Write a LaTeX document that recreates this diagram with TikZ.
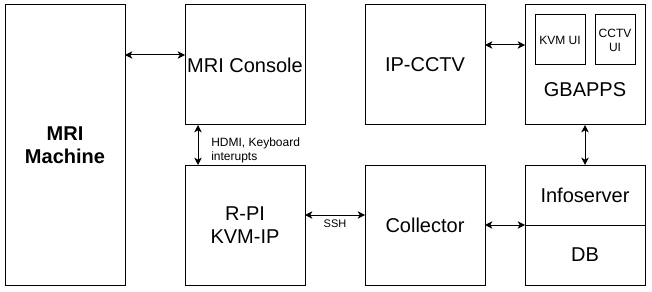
\documentclass[tikz,border=0pt]{standalone}
\usepackage{fontspec}
\setmainfont{Liberation Sans}
\usetikzlibrary{arrows.meta}
\begin{document}
\begin{tikzpicture}[x=0.75pt,y=-0.75pt,
		box/.style={draw, line width=0.75pt, anchor=north west, inner sep=0pt, outer sep=0pt, align=center, font=\fontsize{15}{17.5}\selectfont},
		small/.style={inner sep=0pt, align=center, font=\fontsize{9}{10.5}\selectfont},
		link/.style={{Stealth[length=5.5pt,width=5.5pt,inset=1.5pt]}-{Stealth[length=5.5pt,width=5.5pt,inset=1.5pt]}, line width=0.75pt}]
	\useasboundingbox (0,0) rectangle (652,292);

	% left column
	\node[box, minimum width=90pt, minimum height=210pt, font=\fontsize{15}{17.5}\selectfont\bfseries] (mri) at (5,5) {MRI\\Machine};

	% middle columns
	\node[box, minimum width=90pt, minimum height=90pt] (con) at (185,5) {MRI Console};
	\node[box, minimum width=90pt, minimum height=90pt] (rpi) at (185,165) {R-PI\\KVM-IP};
	\node[box, minimum width=90pt, minimum height=90pt] (cctv) at (365,5) {IP-CCTV};
	\node[box, minimum width=90pt, minimum height=90pt] (col) at (365,165) {Collector};

	% server side
	\node[box, minimum width=90pt, minimum height=90pt] (gb) at (525,5) {};
	\node[box, minimum width=37.5pt, minimum height=37.5pt, font=\fontsize{9}{10.5}\selectfont] (kvmui) at (535,15) {KVM UI};
	\node[box, minimum width=30pt, minimum height=37.5pt, font=\fontsize{9}{10.5}\selectfont] (cctvui) at (595,15) {CCTV\\UI};
	\node[font=\fontsize{15}{17.5}\selectfont, inner sep=0pt] (gbtxt) at (585,90) {GBAPPS};
	\node[box, minimum width=90pt, minimum height=45pt] (info) at (525,165) {Infoserver};
	\node[box, minimum width=90pt, minimum height=45pt] (db) at (525,225) {DB};

	% connections
	\draw[link] (mri.east |- 0,55) -- (con.west |- 0,55);
	\draw[link] (con.south -| 198,0) -- (rpi.north -| 198,0);
	\node[small, align=left, anchor=west] (hdmi) at (211,150) {HDMI, Keyboard\\interupts};
	\draw[link] (rpi.east |- 0,215) -- (col.west |- 0,215);
	\node[small, font=\fontsize{8.25}{10}\selectfont] (ssh) at (335,224) {SSH};
	\draw[link] (cctv.east |- 0,45) -- (gb.west |- 0,45);
	\draw[link] (col.east) -- (info.south west);
	\draw[link] (gb.south) -- (info.north);
\end{tikzpicture}
\end{document}
